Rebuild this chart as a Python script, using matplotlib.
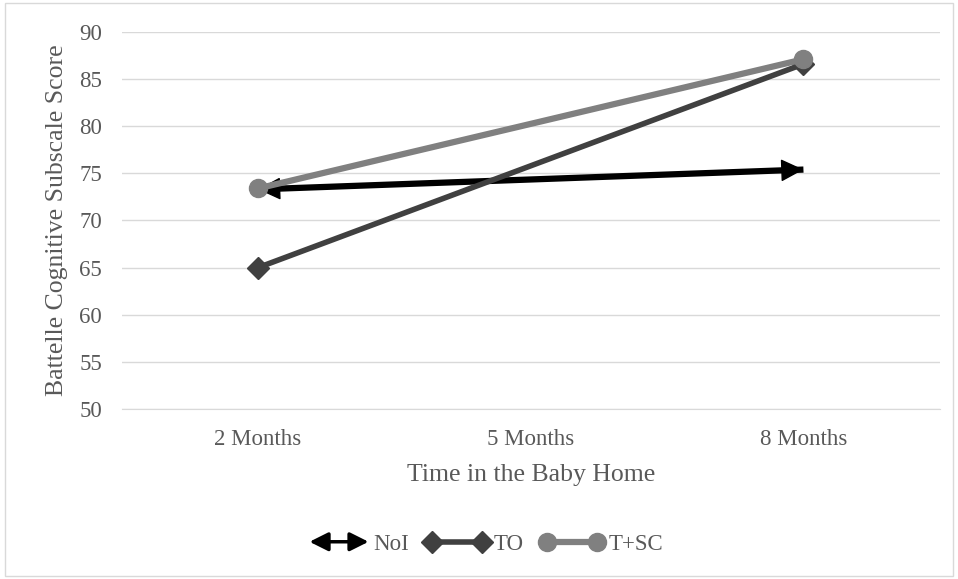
import numpy as np
import matplotlib.pyplot as plt
from matplotlib.patches import FancyArrowPatch, Rectangle
from matplotlib.lines import Line2D
from matplotlib.legend_handler import HandlerBase

# datos
categorias = ['2 Months', '5 Months', '8 Months']
x_puntos = [0, 2]
noi = [73.3, 75.4]
to = [65.0, 86.6]
t_sc = [73.4, 87.1]

plt.rcParams['font.family'] = ['Liberation Serif', 'DejaVu Serif']

col_noi = '#000000'
col_to = '#404040'
col_tsc = '#808080'
gris = '#d9d9d9'
col_txt = '#595959'


class FlechaDoble(HandlerBase):
    # dibuja la flecha doble en la leyenda
    def create_artists(self, legend, orig, xd, yd, w, h, fontsize, trans):
        a = FancyArrowPatch((xd + 0.08 * w, yd + h / 2), (xd + w, yd + h / 2),
                            arrowstyle='<|-|>', mutation_scale=28, lw=2.5,
                            color=col_noi, shrinkA=0, shrinkB=0, transform=trans)
        return [a]


fig = plt.figure(figsize=(9.58, 5.79), dpi=100)
ax = fig.add_axes([0.127, 0.2936, 0.854, 0.6512])

# borde de la figura
fig.patches.append(Rectangle((0.005, 0.005), 0.99, 0.99, transform=fig.transFigure,
                             fill=False, edgecolor=gris, lw=1))

# NoI con flechas en ambos extremos
ax.plot(x_puntos, noi, color=col_noi, lw=4.5, solid_capstyle='butt', zorder=3)
ax.annotate('', xy=(x_puntos[1], noi[1]), xytext=(x_puntos[0], noi[0]),
            arrowprops=dict(arrowstyle='<|-|>', mutation_scale=36, lw=1,
                            color=col_noi, shrinkA=0, shrinkB=0), zorder=3)

ax.plot(x_puntos, to, color=col_to, lw=4, marker='D', markersize=11, zorder=4)
ax.plot(x_puntos, t_sc, color=col_tsc, lw=4.5, marker='o', markersize=13, zorder=5)

ax.set_xlim(-0.5, 2.5)
ax.set_ylim(50, 90)
ax.set_xticks(range(len(categorias)))
ax.set_xticklabels(categorias)
ax.set_yticks(np.arange(50, 91, 5))
ax.tick_params(length=0, labelsize=16.5, colors=col_txt, pad=14.5)
ax.tick_params(axis='y', pad=14)
ax.grid(axis='y', color=gris, lw=1)
ax.set_axisbelow(True)
for s in ['top', 'right', 'left']:
    ax.spines[s].set_visible(False)
ax.spines['bottom'].set_color(gris)

ax.set_xlabel('Time in the Baby Home', fontsize=18.5, color=col_txt, labelpad=10)
ax.set_ylabel('Battelle Cognitive Subscale Score', fontsize=18.5, color=col_txt, labelpad=8)

h_noi = Line2D([], [], color=col_noi)
h_to = Line2D([0, 1], [0, 1], color=col_to, lw=4, marker='D', markersize=11)
h_tsc = Line2D([0, 1], [0, 1], color=col_tsc, lw=4.5, marker='o', markersize=13)
ley = fig.legend([h_noi, h_to, h_tsc], ['NoI', 'TO', 'T+SC'], loc='center',
                 bbox_to_anchor=(0.505, 0.06), ncol=3, frameon=False, fontsize=16.5,
                 handlelength=2.8, handletextpad=0.2, columnspacing=0.7, numpoints=2,
                 handler_map={h_noi: FlechaDoble()})
for t in ley.get_texts():
    t.set_color(col_txt)

plt.savefig('out.png', dpi=100)
